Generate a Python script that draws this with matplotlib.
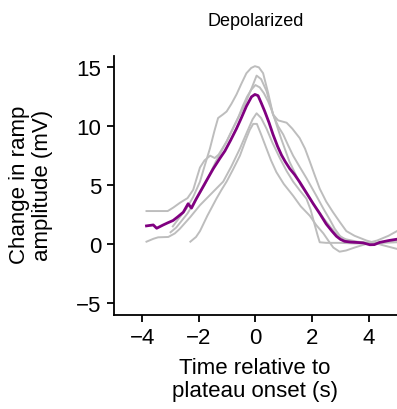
import numpy as np
import matplotlib.pyplot as plt

plt.rcParams['font.family'] = 'Liberation Sans'

# mean trace (purple)
mean_t = [-3.85, -3.61, -3.49, -3.26, -3.1, -2.91, -2.75, -2.55, -2.38, -2.26, -2.1,
          -1.96, -1.75, -1.49, -1.25, -1.08, -0.88, -0.67, -0.5, -0.32, -0.14, -0.02,
          0.09, 0.2, 0.33, 0.48, 0.62, 0.78, 0.92, 1.05, 1.21, 1.38, 1.56, 1.8, 2.04,
          2.28, 2.5, 2.7, 2.86, 3.0, 3.15, 3.35, 3.56, 3.8, 4.04, 4.2, 4.39, 4.74, 4.98]
mean_v = [1.54, 1.62, 1.34, 1.62, 1.8, 2.0, 2.3, 2.7, 3.42, 3.05, 3.8,
          4.4, 5.3, 6.4, 7.3, 7.9, 8.8, 9.8, 10.7, 11.7, 12.5, 12.7,
          12.6, 12.0, 11.25, 10.3, 9.3, 8.3, 7.55, 7.0, 6.4, 5.9, 5.27, 4.35, 3.42,
          2.55, 1.7, 1.1, 0.66, 0.4, 0.23, 0.17, 0.14, 0.1, -0.06, -0.05, 0.14, 0.31, 0.4]

# individual cells (gray)
a_t = [-3.85, -3.5, -3.1, -2.9, -2.67, -2.4, -2.2, -2.05, -1.96, -1.8, -1.6, -1.44,
       -1.3, -1.02, -0.8, -0.55, -0.35, -0.14, 0.04, 0.2, 0.39, 0.62, 0.8, 0.98,
       1.15, 1.33, 1.55, 1.8, 2.15, 2.4, 2.62, 2.8, 2.98, 3.2, 3.4, 4.0, 4.5, 5.0]
a_v = [2.8, 2.8, 2.8, 3.1, 3.5, 3.9, 4.6, 5.8, 6.5, 7.1, 7.5, 7.3,
       7.6, 8.7, 9.8, 11.0, 12.0, 13.2, 14.3, 14.0, 13.0, 11.0, 10.0, 9.3,
       8.4, 7.5, 6.6, 5.6, 4.1, 3.0, 2.1, 1.3, 0.7, 0.3, 0.15, 0.1, 0.1, 0.15]
b_t = [-3.85, -3.6, -3.44, -3.08, -2.85, -2.67, -2.3, -1.96, -1.55, -1.14, -0.85,
       -0.55, -0.3, -0.1, 0.04, 0.2, 0.39, 0.6, 0.86, 1.1, 1.33, 1.55, 1.8, 1.95,
       2.1, 2.2, 2.27, 2.5, 2.98, 3.5, 3.9, 4.3, 4.7, 5.0]
b_v = [0.2, 0.45, 0.57, 0.6, 0.9, 1.3, 2.3, 3.3, 4.3, 5.3, 6.6,
       8.1, 9.5, 10.6, 11.1, 10.7, 9.8, 8.6, 7.3, 6.2, 5.3, 4.6, 3.85, 2.9,
       1.57, 0.7, 0.15, 0.1, 0.1, 0.05, 0.05, 0.3, 0.7, 1.1]
c_t = [-2.3, -2.1, -1.96, -1.7, -1.38, -1.2, -1.02, -0.8, -0.55, -0.35, -0.2,
       -0.08, 0.05, 0.2, 0.39, 0.55, 0.74, 1.0, 1.33, 1.6, 1.92, 2.15, 2.4, 2.6,
       2.75, 2.97, 3.2, 3.5, 3.9, 4.3, 4.7, 5.0]
c_v = [0.2, 0.6, 1.1, 2.4, 3.85, 4.6, 5.3, 6.3, 7.5, 8.8, 9.7,
       10.2, 10.2, 9.3, 8.1, 7.1, 6.1, 5.1, 4.1, 3.2, 2.4, 1.6, 0.9, 0.2,
       -0.3, -0.65, -0.55, -0.3, 0.0, 0.1, 0.2, 0.3]
d_t = [-2.92, -2.7, -2.44, -2.2, -1.96, -1.8, -1.61, -1.45, -1.32, -1.15, -1.02,
       -0.85, -0.67, -0.5, -0.32, -0.15, -0.02, 0.12, 0.27, 0.45, 0.62, 0.8, 0.95,
       1.1, 1.3, 1.56, 1.75, 1.92, 2.1, 2.27, 2.5, 2.74, 3.0, 3.21, 3.5, 3.92, 4.5, 4.98]
d_v = [1.5, 2.2, 3.0, 4.0, 5.3, 6.6, 8.1, 9.6, 10.7, 11.0, 11.25,
       11.9, 12.7, 13.6, 14.5, 14.95, 15.1, 15.0, 14.5, 12.8, 11.0, 10.5, 10.4,
       10.3, 9.8, 9.0, 8.1, 7.0, 5.8, 4.7, 3.6, 2.7, 1.8, 1.1, 0.7, 0.3, -0.1, -0.4]
e_t = [-3.0, -2.8, -2.6, -2.4, -2.2, -2.0, -1.8, -1.6, -1.4, -1.2, -1.0, -0.8,
       -0.6, -0.45, -0.3, -0.15, 0.0, 0.15, 0.3, 0.45, 0.6, 0.75, 0.9, 1.05,
       1.2, 1.4, 1.6, 1.8, 2.0, 2.2, 2.4, 2.6, 2.8, 3.0, 3.2, 3.6, 4.0]
e_v = [1.0, 1.4, 2.0, 2.6, 3.4, 4.2, 5.0, 6.0, 7.0, 7.9, 8.8, 9.8,
       10.8, 11.7, 12.5, 13.1, 13.5, 13.3, 12.8, 12.1, 11.2, 10.1, 9.0, 8.0,
       7.0, 6.0, 5.0, 4.3, 3.6, 2.9, 2.2, 1.6, 1.0, 0.6, 0.4, 0.2, 0.1]

cells = [(a_t, a_v), (b_t, b_v), (c_t, c_v), (d_t, d_v), (e_t, e_v)]

fig = plt.figure(figsize=(3.97, 4.10), dpi=100)
ax = fig.add_axes([0.287, 0.23, 0.713, 0.632])

for t, v in cells:
    ax.plot(t, v, color='#bdbdbd', lw=1.4, solid_joinstyle='round')
ax.plot(mean_t, mean_v, color='#800080', lw=2.0, solid_joinstyle='round')

ax.set_xlim(-5, 5)
ax.set_ylim(-6, 16)
ax.set_xticks([-4, -2, 0, 2, 4])
ax.set_xticklabels(['\u22124', '\u22122', '0', '2', '4'])
ax.set_yticks([-5, 0, 5, 10, 15])
ax.set_yticklabels(['\u22125', '0', '5', '10', '15'])
ax.spines['top'].set_visible(False)
ax.spines['right'].set_visible(False)
for s in ['left', 'bottom']:
    ax.spines[s].set_linewidth(1.3)
ax.tick_params(labelsize=16, width=1.3, length=5, pad=4)

ax.set_title('Depolarized', fontsize=13, pad=22)
fig.text(255 / 397, 1 - 380 / 410, 'Time relative to\nplateau onset (s)', fontsize=16,
         ha='center', va='center', linespacing=1.1)
fig.text(31 / 397, 1 - 185 / 410, 'Change in ramp\namplitude (mV)', fontsize=16,
         ha='center', va='center', rotation=90, linespacing=1.1)

fig.savefig('out.png', dpi=100)
